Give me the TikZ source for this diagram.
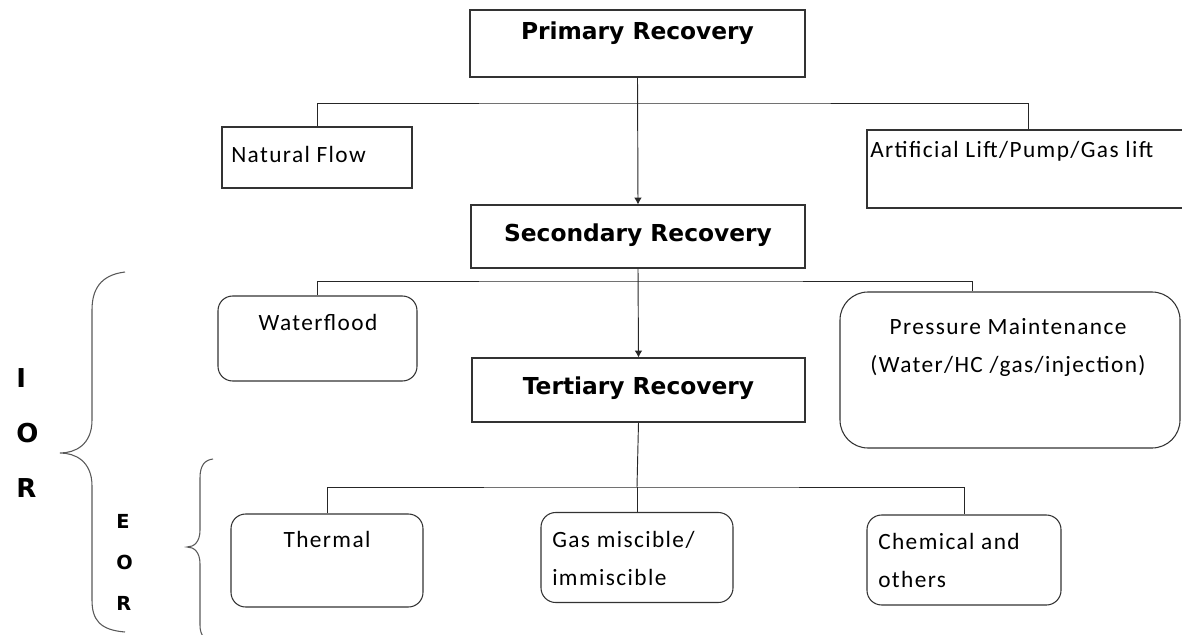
\documentclass[tikz,border=0pt]{standalone}
\usepackage{fontspec}
\usepackage{tikz}
\usetikzlibrary{arrows.meta}
\newfontfamily\bodyfont{Carlito}[LetterSpace=6]
\newfontfamily\headfont{DejaVu Sans}

\begin{document}
\begin{tikzpicture}[x=0.75pt,y=-0.75pt]
\tikzset{>={Latex[width=2mm,length=1.8mm]}}
\tikzstyle{box} =[draw=black!80, line width=0.8pt, inner sep=0pt]
\tikzstyle{rbox} =[box, rounded corners=11pt]
\tikzstyle{head} =[inner sep=0pt, font=\headfont\bfseries\fontsize{17.5}{21}\selectfont]
\tikzstyle{body} =[inner sep=0pt, align=left, font=\bodyfont\fontsize{17.5}{28.5}\selectfont]
\tikzstyle{line} =[draw=black!85, line width=0.7pt]
\tikzstyle{brace} =[draw=black!65, line width=0.8pt]
\useasboundingbox (0,0) rectangle (1182,635);

% boxes
\node[box,minimum width=251.25pt,minimum height=50.25pt](prim) at (637.5,43.5){};
\node[box,minimum width=142.5pt,minimum height=45.75pt](nat) at (317,157.5){};
\node[box,minimum width=242.25pt,minimum height=58.5pt](art) at (1028.5,169){};
\node[box,minimum width=250.5pt,minimum height=47.25pt](sec) at (638,236.5){};
\node[rbox,minimum width=149.25pt,minimum height=63.75pt](wf) at (317.5,338.5){};
\node[rbox,rounded corners=21pt,minimum width=255pt,minimum height=117pt](pm) at (1010,370){};
\node[box,minimum width=249.75pt,minimum height=48pt](ter) at (638.5,390){};
\node[rbox,minimum width=144pt,minimum height=69.75pt](th) at (327,560.5){};
\node[rbox,minimum width=144pt,minimum height=67.5pt](gas) at (637,557.5){};
\node[rbox,minimum width=145.5pt,minimum height=67.5pt](chem) at (964,560){};

% texts (base = last line)
\node[head,anchor=base](primt) at (637.5,40){Primary Recovery};
\node[head,anchor=base](sect) at (638,241){Secondary Recovery};
\node[head,anchor=base](tert) at (638.5,394){Tertiary Recovery};
\node[body,anchor=base west](natt) at (231,162){Natural Flow};
\node[body,anchor=base west](artt) at (870,157){Artificial Lift/Pump/Gas lift};
\node[body,anchor=base](wft) at (318,330){Waterflood};
\node[body,anchor=base,align=center](pmt) at (1008,372){Pressure Maintenance\\(Water/HC /gas/injection)};
\node[body,anchor=base](tht) at (327,547){Thermal};
\node[body,anchor=base west](gast) at (552,585){Gas miscible/\\immiscible};
\node[body,anchor=base west](chemt) at (878,587){Chemical and\\others};

% side letters
\node[head,align=left,anchor=base west,font=\headfont\bfseries\fontsize{19.5}{41.25}\selectfont](ior) at (16,497){I\\O\\R};
\node[head,align=left,anchor=base west,font=\headfont\bfseries\fontsize{14.5}{30.75}\selectfont](eor) at (116,610){E\\O\\R};

% connectors
\coordinate (j1) at (637,103);
\coordinate (j2) at (637,281);
\coordinate (j3) at (637,487);
\draw[line] (nat.north) |- (j1) -| (art.north);
\draw[line,->] (prim.south) -- (sec.north);
\draw[line] (wf.north) |- (j2) -| ([xshift=-28.5pt]pm.north);
\draw[line,->] (sec.south) -- (ter.north);
\draw[line] (ter.south) -- (j3);
\draw[line] (th.north) |- (j3) -| (chem.north);
\draw[line] (j3) -- (gas.north);

% braces
\draw[brace] (125,272) .. controls (100,275) and (92,290) .. (92,310) -- (92,420)
  .. controls (92,445) and (75,453) .. (60,453) .. controls (75,453) and (92,461) .. (92,486)
  -- (92,600) .. controls (92,620) and (100,630) .. (125,632);
\draw[brace] (213,459) .. controls (205,460) and (200,465) .. (200,478) -- (200,530)
  .. controls (200,542) and (194,547) .. (187,547) .. controls (194,547) and (200,552) .. (200,564)
  -- (200,625) .. controls (200,636) and (205,640) .. (213,641);
\end{tikzpicture}
\end{document}
